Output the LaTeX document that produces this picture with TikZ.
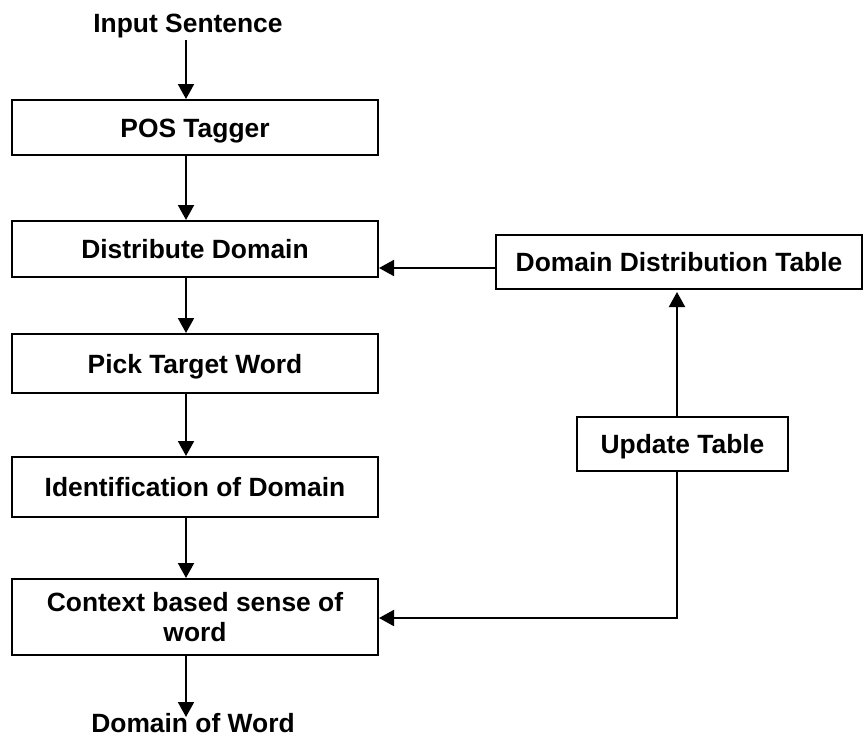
\documentclass[tikz,border=0pt]{standalone}
\usepackage{fontspec}
\setmainfont{Liberation Sans}
\usetikzlibrary{arrows.meta}
\begin{document}
\begin{tikzpicture}[x=1pt,y=-1pt,
  box/.style={draw, line width=2pt, minimum width=366pt, inner sep=0pt,
    font=\fontsize{26.4}{30}\selectfont\bfseries, align=center},
  one/.style={text height=19pt, text depth=0pt},
  lbl/.style={font=\fontsize{26.4}{30}\selectfont\bfseries, inner sep=0pt, text height=19pt, text depth=0pt},
  arr/.style={line width=2pt, -{Triangle[width=16pt,length=15pt]}},
  ln/.style={line width=2pt}]
\useasboundingbox (0,0) rectangle (863,737);
\node[lbl] (in) at (188,22.5) {Input Sentence};
\node[box, one, minimum height=55pt] (pos) at (195,127.5) {POS Tagger};
\node[box, one, minimum height=56pt] (dd) at (195,249) {Distribute Domain};
\node[box, one, minimum height=59pt] (pt) at (195,363.5) {Pick Target Word};
\node[box, one, minimum height=60pt] (id) at (195,487) {Identification of Domain};
\node[box, minimum height=76pt] (cb) at (195,617) {Context based sense of\\word};
\node[lbl] (out) at (193,723) {Domain of Word};
\node[box, one, minimum height=54pt] (ddt) at (679,262) {Domain Distribution Table};
\node[box, one, minimum width=211pt, minimum height=54pt] (ut) at (682.5,444) {Update Table};
\coordinate (ax) at (186,0);
\coordinate (vx) at (677,0);
\coordinate (ya) at (0,268);
\coordinate (yb) at (0,618);
\coordinate (instart) at (186,40);
\coordinate (outtip) at (186,717);
\draw[arr] (instart) -- (pos.north -| ax);
\draw[arr] (pos.south -| ax) -- (dd.north -| ax);
\draw[arr] (dd.south -| ax) -- (pt.north -| ax);
\draw[arr] (pt.south -| ax) -- (id.north -| ax);
\draw[arr] (id.south -| ax) -- (cb.north -| ax);
\draw[arr] (cb.south -| ax) -- (outtip);
\draw[arr] (ddt.west |- ya) -- (dd.east |- ya);
\draw[arr, shorten >=2pt] (ut.north -| vx) -- (ddt.south -| vx);
\draw[arr] (ut.south -| vx) |- (cb.east |- yb);
\end{tikzpicture}
\end{document}
